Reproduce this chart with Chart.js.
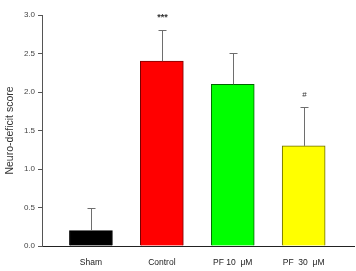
<!DOCTYPE html>
<html>
<head>
<meta charset="utf-8">
<script src="https://cdn.jsdelivr.net/npm/chart.js@4/dist/chart.umd.min.js"></script>
<style>
html,body{margin:0;padding:0;background:#fff;}
#wrap{width:356px;height:271px;position:relative;}
</style>
</head>
<body>
<div id="wrap"><canvas id="c" width="356" height="271"></canvas></div>
<script>
const categories = ["Sham", "Control", "PF 10  \u03bcM", "PF  30  \u03bcM"];
const scores = [0.2, 2.4, 2.1, 1.3];
const errors = [0.3, 0.4, 0.4, 0.5];
const marks = ["", "***", "", "#"];
const yTicks = [0, 0.5, 1.0, 1.5, 2.0, 2.5, 3.0];
const fillColors = ["#000000", "#ff0000", "#00ff00", "#ffff00"];
const edgeColors = ["#000000", "#7a0000", "#006400", "#6b6b00"];

const FONT = "'Liberation Sans', Arial, sans-serif";

const errorPlugin = {
  id: 'errbars',
  afterDatasetsDraw(chart) {
    const ctx = chart.ctx;
    const xs = chart.scales.x, ys = chart.scales.y;
    ctx.save();
    ctx.strokeStyle = '#6e6e6e';
    ctx.lineWidth = 1;
    scores.forEach((v, i) => {
      const x = Math.round(xs.getPixelForValue(i)) + 0.5;
      const y0 = ys.getPixelForValue(v);
      const y1 = Math.round(ys.getPixelForValue(v + errors[i])) + 0.5;
      ctx.beginPath();
      ctx.moveTo(x, y0);
      ctx.lineTo(x, y1);
      ctx.moveTo(x - 4, y1);
      ctx.lineTo(x + 4, y1);
      ctx.stroke();
      if (marks[i]) {
        ctx.fillStyle = '#333';
        ctx.font = (marks[i] === '***' ? 'bold 9px ' : '8px ') + FONT;
        ctx.textAlign = 'center';
        ctx.textBaseline = 'middle';
        ctx.fillText(marks[i], x, y1 - 13);
      }
    });
    ctx.restore();
  }
};

new Chart(document.getElementById('c'), {
  type: 'bar',
  data: {
    datasets: [{
      data: scores.map((v, i) => ({x: i, y: v})),
      backgroundColor: fillColors,
      borderColor: edgeColors,
      borderWidth: 1,
      barThickness: 43
    }]
  },
  options: {
    responsive: false,
    animation: false,
    layout: {padding: {top: 15, right: 2, left: 0, bottom: 0}},
    plugins: {legend: {display: false}, tooltip: {enabled: false}},
    scales: {
      x: {
        type: 'linear',
        offset: false,
        min: -0.69,
        max: 3.71,
        afterBuildTicks(scale) { scale.ticks = categories.map((c, i) => ({value: i})); },
        afterFit(scale) { scale.height = 25; },
        grid: {display: false, drawTicks: false},
        border: {display: true, color: '#222', width: 1},
        ticks: {
          autoSkip: false, maxRotation: 0, padding: 12,
          color: '#222', font: {family: FONT, size: 8.5},
          callback: (v) => categories[v] !== undefined ? categories[v] : ''
        }
      },
      y: {
        min: 0, max: 3,
        afterBuildTicks(scale) { scale.ticks = yTicks.map(v => ({value: v})); },
        afterFit(scale) { scale.width = 42; },
        grid: {drawOnChartArea: false, drawTicks: true, tickLength: 4, color: '#555'},
        border: {display: true, color: '#555', width: 1},
        ticks: {
          padding: 3, color: '#444', font: {family: FONT, size: 8},
          callback: (v) => Number(v).toFixed(1)
        },
        title: {
          display: true, text: 'Neuro-deficit score', color: '#333',
          font: {family: FONT, size: 10.5}, padding: {top: 4, bottom: 2}
        }
      }
    }
  },
  plugins: [errorPlugin]
});
</script>
</body>
</html>
